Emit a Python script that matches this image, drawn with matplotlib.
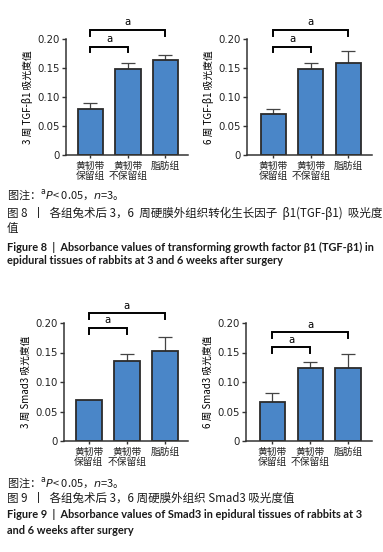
import matplotlib
matplotlib.use("Agg")
import matplotlib.pyplot as plt

plt.rcParams['font.family'] = ['Noto Sans CJK SC', 'DejaVu Sans']

categories = ["黄韧带\n保留组", "黄韧带\n不保留组", "脂肪组"]
tgf_3w = [0.079, 0.148, 0.163]
tgf_3w_err = [0.010, 0.011, 0.010]
tgf_6w = [0.070, 0.149, 0.159]
tgf_6w_err = [0.009, 0.010, 0.020]
smad_3w = [0.069, 0.136, 0.153]
smad_3w_err = [0.0, 0.012, 0.024]
smad_6w = [0.066, 0.123, 0.123]
smad_6w_err = [0.015, 0.011, 0.025]
yticks = [0, 0.05, 0.10, 0.15, 0.20]
yticklabels = ["0", "0.05", "0.10", "0.15", "0.20"]

W, H = 383, 552
fig = plt.figure(figsize=(W/100, H/100), dpi=100)

def px_axes(left, right, top, bottom):
    return fig.add_axes([left/W, 1-bottom/H, (right-left)/W, (bottom-top)/H])

BAR = "#4A86C8"
EDGE = "#2b2b2b"

def panel(ax, vals, errs, ylabel, xlim, br_small, br_big):
    x = list(range(len(vals)))
    ax.bar(x, vals, width=0.67, color=BAR, edgecolor=EDGE, linewidth=1.3, zorder=2)
    for xi, v, e in zip(x, vals, errs):
        if e > 0:
            ax.errorbar([xi], [v], yerr=[[0], [e]], fmt='none', ecolor="#444444",
                        elinewidth=0.9, capsize=5, capthick=0.9, zorder=1)
    ax.set_xlim(*xlim)
    ax.set_ylim(0, 0.2)
    ax.set_yticks(yticks)
    ax.set_yticklabels(yticklabels, fontsize=7.3, family=['DejaVu Sans'])
    ax.set_xticks(x)
    ax.set_xticklabels(categories, fontsize=7, linespacing=1.0)
    ax.set_ylabel(ylabel, fontsize=7, labelpad=3)
    for s in ["top", "right"]:
        ax.spines[s].set_visible(False)
    for s in ["left", "bottom"]:
        ax.spines[s].set_linewidth(1.1)
        ax.spines[s].set_color("#333333")
    ax.tick_params(axis='y', length=3, width=1, pad=1.5, colors="#333333", labelcolor="#222222")
    ax.tick_params(axis='x', length=2.5, width=1, pad=1.5, colors="#333333", labelcolor="#222222")
    ax.patch.set_alpha(0)
    for (a, b, y) in [(0, 1, br_small), (0, 2, br_big)]:
        d = 0.01
        ax.plot([a, a, b, b], [y-d, y, y, y-d], color="black", lw=1.4, clip_on=False,
                solid_joinstyle='miter')
        ax.text((a+b)/2, y+0.004, "a", ha='center', va='bottom', fontsize=7.3,
                family=['DejaVu Sans'], clip_on=False)

ax1 = px_axes(66, 188, 39, 155)
panel(ax1, tgf_3w, tgf_3w_err, "3 周 TGF-β1 吸光度值", (-0.65, 2.6), 0.187, 0.216)
ax2 = px_axes(247, 372, 39, 155)
panel(ax2, tgf_6w, tgf_6w_err, "6 周 TGF-β1 吸光度值", (-0.7, 2.63), 0.187, 0.216)
ax3 = px_axes(64, 188, 323, 441)
panel(ax3, smad_3w, smad_3w_err, "3 周 Smad3 吸光度值", (-0.65, 2.6), 0.192, 0.217)
ax4 = px_axes(246, 372, 323, 441)
panel(ax4, smad_6w, smad_6w_err, "6 周 Smad3 吸光度值", (-0.7, 2.63), 0.159, 0.184)

def ftext(xp, yp, s, **kw):
    fig.text(xp/W, 1-yp/H, s, va='center', ha='left', **kw)

cap_col = "#1a1a1a"
EN = dict(fontsize=7.9, fontweight='bold', family=['Lato', 'DejaVu Sans'], color=cap_col)
ftext(7, 195, r"图注：$^{\mathrm{a}}$$\it{P}$< 0.05，$\it{n}$=3。", fontsize=8, color=cap_col)
ftext(7, 213, "图 8  丨  各组兔术后 3，6  周硬膜外组织转化生长因子  β1(TGF-β1)  吸光度", fontsize=8.3, color=cap_col)
ftext(7, 228, "值", fontsize=8.3, color=cap_col)
ftext(7, 247, "Figure 8  |  Absorbance values of transforming growth factor β1 (TGF-β1) in", **EN)
ftext(7, 261, "epidural tissues of rabbits at 3 and 6 weeks after surgery", **EN)

ftext(7, 483, r"图注：$^{\mathrm{a}}$$\it{P}$< 0.05，$\it{n}$=3。", fontsize=8, color=cap_col)
ftext(7, 498, "图 9  丨  各组兔术后 3，6 周硬膜外组织 Smad3 吸光度值", fontsize=8.3, color=cap_col)
ftext(7, 514, "Figure 9  |  Absorbance values of Smad3 in epidural tissues of rabbits at 3", **EN)
ftext(7, 531, "and 6 weeks after surgery", **EN)

fig.savefig("out.png", dpi=100)
